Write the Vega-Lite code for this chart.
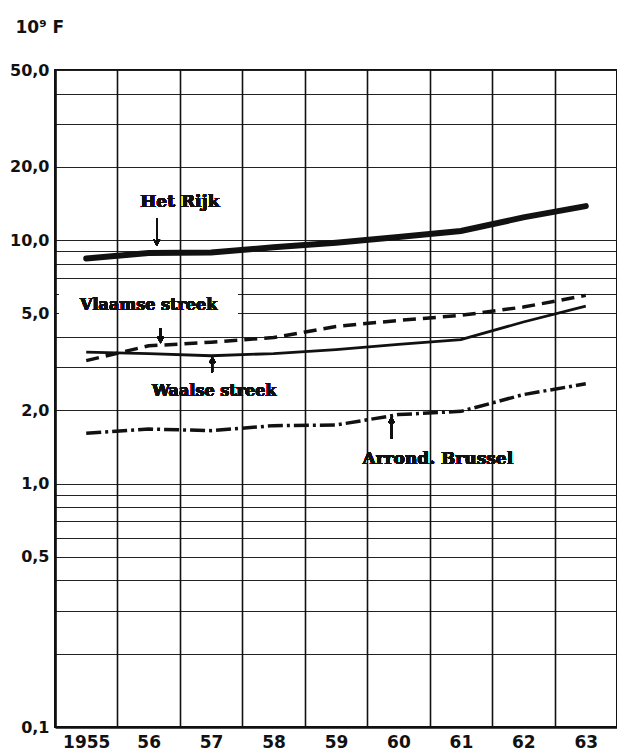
{
  "$schema": "https://vega.github.io/schema/vega-lite/v6.json",
  "width": 562,
  "height": 657,
  "autosize": {"type": "none"},
  "padding": {"left": 55, "top": 70, "right": 0, "bottom": 24},
  "background": "white",
  "config": {
    "view": {"stroke": "#111", "strokeWidth": 2},
    "font": "DejaVu Sans"
  },
  "data": {
    "values": [
      {"year": "1955", "series": "Het Rijk", "value": 8.4},
      {"year": "1956", "series": "Het Rijk", "value": 8.85},
      {"year": "1957", "series": "Het Rijk", "value": 8.9},
      {"year": "1958", "series": "Het Rijk", "value": 9.35},
      {"year": "1959", "series": "Het Rijk", "value": 9.75},
      {"year": "1960", "series": "Het Rijk", "value": 10.3},
      {"year": "1961", "series": "Het Rijk", "value": 10.9},
      {"year": "1962", "series": "Het Rijk", "value": 12.4},
      {"year": "1963", "series": "Het Rijk", "value": 13.8},
      {"year": "1955", "series": "Vlaamse streek", "value": 3.2},
      {"year": "1956", "series": "Vlaamse streek", "value": 3.68},
      {"year": "1957", "series": "Vlaamse streek", "value": 3.81},
      {"year": "1958", "series": "Vlaamse streek", "value": 3.98},
      {"year": "1959", "series": "Vlaamse streek", "value": 4.42},
      {"year": "1960", "series": "Vlaamse streek", "value": 4.68},
      {"year": "1961", "series": "Vlaamse streek", "value": 4.91},
      {"year": "1962", "series": "Vlaamse streek", "value": 5.31},
      {"year": "1963", "series": "Vlaamse streek", "value": 5.93},
      {"year": "1955", "series": "Waalse streek", "value": 3.47},
      {"year": "1956", "series": "Waalse streek", "value": 3.42},
      {"year": "1957", "series": "Waalse streek", "value": 3.35},
      {"year": "1958", "series": "Waalse streek", "value": 3.42},
      {"year": "1959", "series": "Waalse streek", "value": 3.55},
      {"year": "1960", "series": "Waalse streek", "value": 3.73},
      {"year": "1961", "series": "Waalse streek", "value": 3.9},
      {"year": "1962", "series": "Waalse streek", "value": 4.61},
      {"year": "1963", "series": "Waalse streek", "value": 5.36},
      {"year": "1955", "series": "Arrond. Brussel", "value": 1.61},
      {"year": "1956", "series": "Arrond. Brussel", "value": 1.675},
      {"year": "1957", "series": "Arrond. Brussel", "value": 1.65},
      {"year": "1958", "series": "Arrond. Brussel", "value": 1.73},
      {"year": "1959", "series": "Arrond. Brussel", "value": 1.74},
      {"year": "1960", "series": "Arrond. Brussel", "value": 1.92},
      {"year": "1961", "series": "Arrond. Brussel", "value": 1.98},
      {"year": "1962", "series": "Arrond. Brussel", "value": 2.32},
      {"year": "1963", "series": "Arrond. Brussel", "value": 2.57}
    ]
  },
  "encoding": {
    "x": {
      "field": "year",
      "type": "ordinal",
      "scale": {"type": "band", "domain": ["1955", "1956", "1957", "1958", "1959", "1960", "1961", "1962", "1963"], "paddingInner": 0, "paddingOuter": 0},
      "axis": {
        "title": null,
        "tickBand": "extent",
        "grid": true,
        "gridColor": "#111",
        "gridWidth": 1.6,
        "gridOpacity": 1,
        "ticks": false,
        "domain": true,
        "domainColor": "#111",
        "domainWidth": 2.5,
        "labelAngle": 0,
        "labelFont": "DejaVu Sans",
        "labelFontWeight": "bold",
        "labelFontSize": 17,
        "labelColor": "#111",
        "labelPadding": 7,
        "labelBaseline": "top",
        "labelOverlap": false,
        "labelExpr": "datum.value == '1955' ? '1955' : (isString(datum.value) ? substring(datum.value, 2) : '')"
      }
    },
    "y": {
      "field": "value",
      "type": "quantitative",
      "scale": {"type": "log", "domain": [0.1, 50], "nice": false},
      "axis": {
        "title": "10⁹ F",
        "titleAngle": 0,
        "titleAlign": "left",
        "titleBaseline": "alphabetic",
        "titleX": -40,
        "titleY": -38,
        "titleFont": "DejaVu Sans",
        "titleFontWeight": "bold",
        "titleFontSize": 17,
        "titleColor": "#111",
        "values": [0.1, 0.2, 0.3, 0.4, 0.5, 0.6, 0.7, 0.8, 0.9, 1, 2, 3, 4, 5, 6, 7, 8, 9, 10, 20, 30, 40, 50],
        "grid": true,
        "gridColor": "#222",
        "gridWidth": 1.2,
        "gridOpacity": 1,
        "ticks": false,
        "domain": true,
        "domainColor": "#111",
        "domainWidth": 2.5,
        "labelExpr": "(datum.value == 0.1 || datum.value == 0.5 || datum.value == 1 || datum.value == 2 || datum.value == 5 || datum.value == 10 || datum.value == 20 || datum.value == 50) ? replace(format(datum.value, '.1f'), '.', ',') : ''",
        "labelFont": "DejaVu Sans",
        "labelFontWeight": "bold",
        "labelFontSize": 16,
        "labelColor": "#111",
        "labelPadding": 6,
        "labelOverlap": false,
        "labelBound": false,
        "labelFlush": false
      }
    }
  },
  "layer": [
    {
      "mark": {"type": "rect", "fill": "white"},
      "encoding": {
        "x": {"datum": "1956", "type": "ordinal", "bandPosition": 0.05},
        "x2": {"datum": "1958", "bandPosition": 0.2},
        "y": {"datum": 19, "type": "quantitative"},
        "y2": {"datum": 12}
      }
    },
    {
      "mark": {"type": "rect", "fill": "white"},
      "encoding": {
        "x": {"datum": "1955", "type": "ordinal", "bandPosition": 0.07},
        "x2": {"datum": "1957", "bandPosition": 0.93},
        "y": {"datum": 6.64, "type": "quantitative"},
        "y2": {"datum": 4.38}
      }
    },
    {
      "mark": {"type": "rect", "fill": "white"},
      "encoding": {
        "x": {"datum": "1956", "type": "ordinal", "bandPosition": 0.13},
        "x2": {"datum": "1958", "bandPosition": 0.88},
        "y": {"datum": 2.86, "type": "quantitative"},
        "y2": {"datum": 2.09}
      }
    },
    {
      "mark": {"type": "rect", "fill": "white"},
      "encoding": {
        "x": {"datum": "1958", "type": "ordinal", "bandPosition": 0.88},
        "x2": {"datum": "1962", "bandPosition": 0.88},
        "y": {"datum": 1.5, "type": "quantitative"},
        "y2": {"datum": 1.03}
      }
    },
    {
      "transform": [{"filter": "datum.series == 'Het Rijk'"}],
      "mark": {"type": "line", "color": "#111", "strokeWidth": 6, "strokeCap": "round"},
      "encoding": {}
    },
    {
      "transform": [{"filter": "datum.series == 'Vlaamse streek'"}],
      "mark": {"type": "line", "color": "#111", "strokeWidth": 3.5, "strokeDash": [13, 7]},
      "encoding": {}
    },
    {
      "transform": [{"filter": "datum.series == 'Waalse streek'"}],
      "mark": {"type": "line", "color": "#111", "strokeWidth": 2.8},
      "encoding": {}
    },
    {
      "transform": [{"filter": "datum.series == 'Arrond. Brussel'"}],
      "mark": {"type": "line", "color": "#111", "strokeWidth": 3.5, "strokeDash": [15, 4, 3, 4]},
      "encoding": {}
    },
    {
      "mark": {"type": "text", "text": "Het Rijk", "font": "DejaVu Serif", "fontWeight": "bold", "fontSize": 17, "align": "center", "baseline": "middle", "color": "#111"},
      "encoding": {
        "x": {"datum": "1957", "type": "ordinal", "bandPosition": 0},
        "y": {"datum": 14.4, "type": "quantitative"}
      }
    },
    {
      "mark": {"type": "text", "text": "Vlaamse streek", "font": "DejaVu Serif", "fontWeight": "bold", "fontSize": 16, "align": "center", "baseline": "middle", "color": "#111"},
      "encoding": {
        "x": {"datum": "1956", "type": "ordinal", "bandPosition": 0.5},
        "y": {"datum": 5.4, "type": "quantitative"}
      }
    },
    {
      "mark": {"type": "text", "text": "Waalse streek", "font": "DejaVu Serif", "fontWeight": "bold", "fontSize": 16, "align": "center", "baseline": "middle", "color": "#111"},
      "encoding": {
        "x": {"datum": "1957", "type": "ordinal", "bandPosition": 0.55},
        "y": {"datum": 2.41, "type": "quantitative"}
      }
    },
    {
      "mark": {"type": "text", "text": "Arrond. Brussel", "font": "DejaVu Serif", "fontWeight": "bold", "fontSize": 17, "align": "center", "baseline": "middle", "color": "#111"},
      "encoding": {
        "x": {"datum": "1961", "type": "ordinal", "bandPosition": 0.13},
        "y": {"datum": 1.26, "type": "quantitative"}
      }
    },
    {
      "mark": {"type": "rule", "color": "#111", "strokeWidth": 1.4},
      "encoding": {
        "x": {"datum": "1956", "type": "ordinal", "bandPosition": 0.63},
        "y": {"datum": 12.3, "type": "quantitative"},
        "y2": {"datum": 9.6}
      }
    },
    {
      "mark": {"type": "point", "shape": "M-1,-1.8L0,0L1,-1.8", "filled": false, "color": "#111", "strokeWidth": 1.4, "size": 30, "opacity": 1},
      "encoding": {
        "x": {"datum": "1956", "type": "ordinal", "bandPosition": 0.63},
        "y": {"datum": 9.6, "type": "quantitative"}
      }
    },
    {
      "mark": {"type": "rule", "color": "#111", "strokeWidth": 1.4},
      "encoding": {
        "x": {"datum": "1956", "type": "ordinal", "bandPosition": 0.69},
        "y": {"datum": 4.34, "type": "quantitative"},
        "y2": {"datum": 3.82}
      }
    },
    {
      "mark": {"type": "point", "shape": "M-1,-1.8L0,0L1,-1.8", "filled": false, "color": "#111", "strokeWidth": 1.4, "size": 30, "opacity": 1},
      "encoding": {
        "x": {"datum": "1956", "type": "ordinal", "bandPosition": 0.69},
        "y": {"datum": 3.82, "type": "quantitative"}
      }
    },
    {
      "mark": {"type": "rule", "color": "#111", "strokeWidth": 1.4},
      "encoding": {
        "x": {"datum": "1957", "type": "ordinal", "bandPosition": 0.52},
        "y": {"datum": 2.86, "type": "quantitative"},
        "y2": {"datum": 3.28}
      }
    },
    {
      "mark": {"type": "point", "shape": "M-1,1.8L0,0L1,1.8", "filled": false, "color": "#111", "strokeWidth": 1.4, "size": 30, "opacity": 1},
      "encoding": {
        "x": {"datum": "1957", "type": "ordinal", "bandPosition": 0.52},
        "y": {"datum": 3.28, "type": "quantitative"}
      }
    },
    {
      "mark": {"type": "rule", "color": "#111", "strokeWidth": 1.4},
      "encoding": {
        "x": {"datum": "1960", "type": "ordinal", "bandPosition": 0.39},
        "y": {"datum": 1.53, "type": "quantitative"},
        "y2": {"datum": 1.86}
      }
    },
    {
      "mark": {"type": "point", "shape": "M-1,1.8L0,0L1,1.8", "filled": false, "color": "#111", "strokeWidth": 1.4, "size": 30, "opacity": 1},
      "encoding": {
        "x": {"datum": "1960", "type": "ordinal", "bandPosition": 0.39},
        "y": {"datum": 1.86, "type": "quantitative"}
      }
    }
  ]
}
